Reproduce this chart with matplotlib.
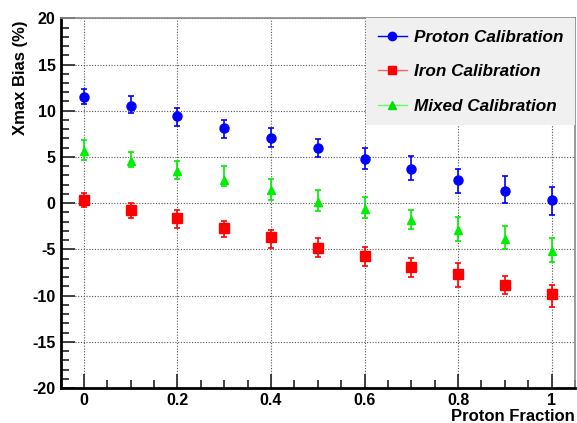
import matplotlib.pyplot as plt
from matplotlib.lines import Line2D
from matplotlib.ticker import MultipleLocator

plt.rcParams['font.family'] = ['Liberation Sans', 'DejaVu Sans']
plt.rcParams['font.weight'] = 'bold'
plt.rcParams['axes.unicode_minus'] = False

fraction = [0.0, 0.1, 0.2, 0.3, 0.4, 0.5, 0.6, 0.7, 0.8, 0.9, 1.0]

# proton calibration: value, error down, error up
proton = [11.5, 10.5, 9.45, 8.15, 7.1, 5.95, 4.75, 3.7, 2.5, 1.3, 0.35]
proton_lo = [0.8, 0.7, 1.05, 1.05, 1.05, 0.95, 1.0, 1.2, 1.35, 1.3, 1.6]
proton_hi = [0.85, 1.05, 0.85, 0.8, 1.05, 0.95, 1.2, 1.45, 1.25, 1.6, 1.45]

# iron calibration
iron = [0.35, -0.7, -1.65, -2.65, -3.7, -4.85, -5.7, -6.9, -7.7, -8.8, -9.85]
iron_lo = [0.75, 0.95, 1.05, 1.05, 1.1, 0.95, 1.1, 1.05, 1.35, 1.05, 1.4]
iron_hi = [0.7, 0.7, 0.9, 0.7, 0.85, 1.05, 1.0, 1.0, 1.2, 0.95, 1.05]

# mixed calibration
mixed = [5.65, 4.6, 3.5, 2.5, 1.45, 0.15, -0.65, -1.85, -2.85, -3.9, -5.15]
mixed_lo = [1.0, 0.65, 0.9, 0.65, 1.1, 1.0, 1.0, 0.9, 1.2, 1.1, 1.2]
mixed_hi = [1.15, 0.9, 1.05, 1.5, 1.2, 1.25, 1.3, 1.1, 1.3, 1.4, 1.35]

fig = plt.figure(figsize=(5.77, 4.23), dpi=100)
ax = fig.add_axes([0.1049, 0.0827, 0.8916, 0.874])

ax.errorbar(fraction, proton, yerr=[proton_lo, proton_hi], fmt='o', color='#0000ff',
            ms=6.5, elinewidth=1.2, capsize=2.5, capthick=1.2, zorder=3)
ax.errorbar(fraction, iron, yerr=[iron_lo, iron_hi], fmt='s', color='#ff0000',
            ms=6.5, elinewidth=1.2, capsize=2.5, capthick=1.2, zorder=3)
ax.errorbar(fraction, mixed, yerr=[mixed_lo, mixed_hi], fmt='^', color='#00ee00',
            ms=6, elinewidth=1.2, capsize=2.5, capthick=1.2, zorder=3)

ax.set_xlim(-0.05, 1.05)
ax.set_ylim(-20, 20)
ax.xaxis.set_major_locator(MultipleLocator(0.2))
ax.xaxis.set_minor_locator(MultipleLocator(0.05))
ax.yaxis.set_major_locator(MultipleLocator(5))
ax.yaxis.set_minor_locator(MultipleLocator(1))
ax.tick_params(which='both', direction='in', top=False, right=False,
               labelsize=11.5, width=1.3, color='#333333')
ax.tick_params(which='major', length=10, pad=3.5)
ax.tick_params(which='minor', length=5.5)
ax.set_xticks([0, 0.2, 0.4, 0.6, 0.8, 1.0])
ax.set_xticklabels(['0', '0.2', '0.4', '0.6', '0.8', '1'])
ax.grid(True, which='major', linestyle=(0, (1, 1.5)), color='#555555', linewidth=0.8)

for side in ['left', 'bottom']:
    ax.spines[side].set_linewidth(2)
    ax.spines[side].set_color('black')
for side in ['top', 'right']:
    ax.spines[side].set_linewidth(1.2)
    ax.spines[side].set_color('#888888')

ax.set_xlabel('Proton Fraction', fontsize=12, fontweight='bold', ha='right', va='center')
ax.xaxis.set_label_coords(1.0, -0.076)
ax.set_ylabel('Xmax Bias (%)', fontsize=12, fontweight='bold', ha='right', va='center')
ax.yaxis.set_label_coords(-0.078, 0.995)

handles = [
    Line2D([], [], color='#0000ff', marker='o', ms=6, lw=1),
    Line2D([], [], color='#ff6666', marker='s', ms=6, lw=1,
           markerfacecolor='#ff0000', markeredgecolor='#ff0000'),
    Line2D([], [], color='#66ff66', marker='^', ms=6, lw=1,
           markerfacecolor='#00dd00', markeredgecolor='#00dd00'),
]
labels = ['Proton Calibration', 'Iron Calibration', 'Mixed Calibration']
leg = ax.legend(handles, labels, loc='upper right', bbox_to_anchor=(1.0, 1.0),
                borderaxespad=0, frameon=True, fancybox=False, facecolor='#f0f0f0',
                edgecolor='none', framealpha=1, handlelength=1.7, handletextpad=0.4,
                labelspacing=1.12, borderpad=0.7,
                prop={'family': ['Liberation Sans'], 'weight': 'bold',
                      'style': 'italic', 'size': 12.3})
leg.set_zorder(5)

fig.savefig('out.png', dpi=100)
